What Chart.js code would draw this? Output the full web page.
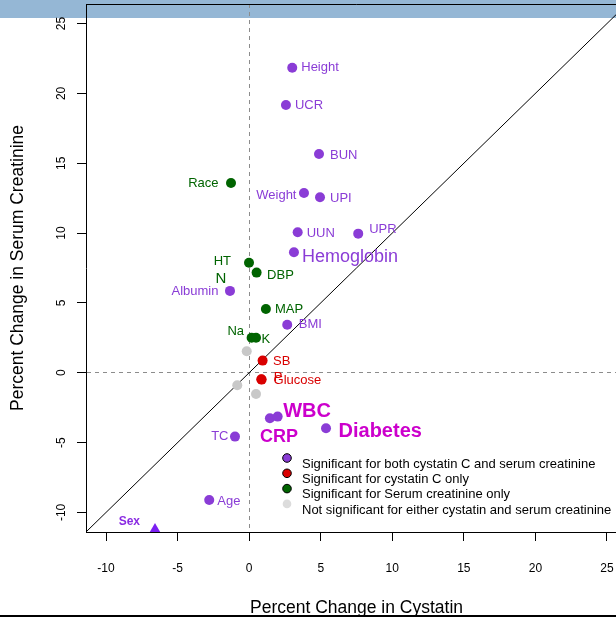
<!DOCTYPE html>
<html>
<head>
<meta charset="utf-8">
<script src="https://cdn.jsdelivr.net/npm/chart.js@4.4.1/dist/chart.umd.min.js"></script>
<style>
  html, body { margin: 0; padding: 0; background: #fff; overflow: hidden; width: 616px; height: 621px; }
  #band { position: absolute; left: 0; top: 0; width: 616px; height: 18px; background: #95b7d5; }
  #wrap { position: absolute; left: 0; top: 0; width: 660px; height: 621px; }
</style>
</head>
<body>
<div id="band"></div>
<div id="wrap"><canvas id="chart" width="660" height="621"></canvas></div>
<script>
// Percent change in cystatin C (x) and serum creatinine (y) per covariate
const names = ['Height','UCR','BUN','Race','Weight','UPI','UUN','UPR','Hemoglobin','HT','N','DBP','Albumin','MAP','BMI','Na','K','SB','P','Glucose','CRP','WBC','Diabetes','TC','Age','Sex','','',''];
const cystatinChange = [3.01,2.57,4.88,-1.27,3.83,4.95,3.39,7.62,3.13,-0.01,-0.01,0.52,-1.34,1.17,2.66,0.17,0.48,0.94,0.85,0.87,1.45,1.99,5.37,-0.99,-2.79,-6.58,-0.17,-0.83,0.48];
const creatinineChange = [21.84,19.17,15.66,13.58,12.87,12.56,10.06,9.96,8.63,7.88,7.88,7.17,5.86,4.57,3.44,2.51,2.51,0.87,-0.47,-0.49,-3.26,-3.14,-3.97,-4.57,-9.11,-11.4,1.54,-0.89,-1.52];
const significance = ['both','both','both','creatinine','both','both','both','both','both','creatinine','creatinine','creatinine','both','creatinine','both','creatinine','creatinine','cystatin','cystatin','cystatin','both','both','both','both','both','both','neither','neither','neither'];

const xTickValues = [-10, -5, 0, 5, 10, 15, 20, 25];
const yTickValues = [-10, -5, 0, 5, 10, 15, 20, 25];
const axisRange = [-11.4, 26.4];
const identityLine = [-12, 27];

const groups = ['both', 'cystatin', 'creatinine', 'neither'];
const legendTexts = [
  'Significant for both cystatin C and serum creatinine',
  'Significant for cystatin C only',
  'Significant for Serum creatinine only',
  'Not significant for either cystatin and serum creatinine'
];

// styling
const FONT = "'Liberation Sans', Arial, Helvetica, sans-serif";
const groupColor = { both: '#8a3cd6', cystatin: '#d90000', creatinine: '#006400', neither: '#c8c8c8' };
const legendFill = { both: '#8a3cd6', cystatin: '#d90000', creatinine: '#006400', neither: '#dcdcdc' };
const legendStroke = { both: '#000', cystatin: '#000', creatinine: '#000', neither: null };
const MAGENTA = '#cc00cc';
const labelPlacement = {
  Height:{dx:9,dy:0}, UCR:{dx:9,dy:0}, BUN:{dx:11,dy:1},
  Race:{dx:-12.5,dy:0,align:'right'}, Weight:{dx:-7.5,dy:2,align:'right'},
  UPI:{dx:10,dy:1}, UUN:{dx:9,dy:1}, UPR:{dx:11,dy:-4},
  Hemoglobin:{dx:8,dy:4.5,size:18},
  HT:{dx:-18,dy:-1,align:'right'}, N:{dx:-28,dy:16,align:'center',size:15},
  DBP:{dx:10.5,dy:3}, Albumin:{dx:-11.5,dy:1,align:'right'},
  MAP:{dx:9,dy:0}, BMI:{dx:11.5,dy:0},
  Na:{dx:-7.5,dy:-6.5,align:'right'}, K:{dx:5.5,dy:1.5},
  SB:{dx:10.5,dy:1}, P:{dx:12.5,dy:-2}, Glucose:{dx:12,dy:0.5},
  CRP:{dx:-10,dy:18.5,size:18,bold:true,color:MAGENTA},
  WBC:{dx:5.5,dy:-5,size:20,bold:true,color:MAGENTA},
  Diabetes:{dx:12.5,dy:3.5,size:20,bold:true,color:MAGENTA},
  TC:{dx:-6.5,dy:0,align:'right'}, Age:{dx:8,dy:1},
  Sex:{dx:-15,dy:-10.5,align:'right',size:12,bold:true}
};

const datasets = groups.map(g => {
  const idx = names.map((n, i) => i).filter(i => significance[i] === g);
  return {
    type: 'scatter',
    label: g,
    names: idx.map(i => names[i]),
    data: idx.map(i => ({ x: cystatinChange[i], y: creatinineChange[i] })),
    backgroundColor: idx.map(i => names[i] === 'Sex' ? '#7b1ff2' : (names[i] === 'N' ? 'rgba(0,0,0,0)' : groupColor[g])),
    borderWidth: 0,
    pointStyle: idx.map(i => names[i] === 'Sex' ? 'triangle' : 'circle'),
    pointRadius: idx.map(i => names[i] === 'Sex' ? 9 : 5),
    pointHoverRadius: idx.map(i => names[i] === 'Sex' ? 9 : 5)
  };
});

datasets.push({
  type: 'line',
  label: 'identity',
  names: [],
  data: identityLine.map(v => ({ x: v, y: v })),
  borderColor: '#000',
  borderWidth: 1,
  pointRadius: 0,
  fill: false
});

const pointLabels = {
  id: 'pointLabels',
  afterDatasetsDraw(chart) {
    const ctx = chart.ctx;
    ctx.save();
    chart.data.datasets.forEach((ds, di) => {
      if (!ds.names || !ds.names.length) return;
      const meta = chart.getDatasetMeta(di);
      meta.data.forEach((el, i) => {
        const name = ds.names[i];
        const p = labelPlacement[name];
        if (!name || !p) return;
        const size = p.size || 13;
        ctx.font = (p.bold ? 'bold ' : '') + size + 'px ' + FONT;
        ctx.fillStyle = p.color || (name === 'Sex' ? '#8a2be2' : groupColor[ds.label]);
        ctx.textAlign = p.align || 'left';
        ctx.textBaseline = 'middle';
        ctx.fillText(name, el.x + p.dx, el.y + p.dy);
      });
    });
    ctx.restore();
  }
};

const frameAndLegend = {
  id: 'frameAndLegend',
  afterDraw(chart) {
    const ctx = chart.ctx;
    const a = chart.chartArea;
    ctx.save();
    // box around the plotting region
    ctx.strokeStyle = '#000';
    ctx.lineWidth = 1;
    ctx.beginPath();
    ctx.moveTo(a.left, a.top + 0.5);
    ctx.lineTo(a.right + 0.5, a.top + 0.5);
    ctx.lineTo(a.right + 0.5, a.bottom);
    ctx.stroke();
    // legend
    const lx = 287, ly = 458, step = 15.3;
    groups.forEach((g, i) => {
      const y = ly + i * step;
      ctx.beginPath();
      ctx.arc(lx, y, 4.3, 0, Math.PI * 2);
      ctx.fillStyle = legendFill[g];
      ctx.fill();
      if (legendStroke[g]) { ctx.strokeStyle = legendStroke[g]; ctx.lineWidth = 1; ctx.stroke(); }
      ctx.font = '13px ' + FONT;
      ctx.fillStyle = '#000';
      ctx.textAlign = 'left';
      ctx.textBaseline = 'middle';
      ctx.fillText(legendTexts[i], 302, y + 6.3);
    });
    // rule along the bottom of the figure
    ctx.fillStyle = '#000';
    ctx.fillRect(0, 615, chart.width, 2);
    ctx.restore();
  }
};

const zeroGrid = c => (c.tick && c.tick.value === 0) ? '#8c8c8c' : 'rgba(0,0,0,0)';
const noScalePadding = s => { s.paddingTop = 0; s.paddingBottom = 0; s.paddingLeft = 0; s.paddingRight = 0; };

new Chart(document.getElementById('chart'), {
  type: 'scatter',
  data: { datasets },
  options: {
    responsive: false,
    animation: false,
    layout: { autoPadding: false, padding: { top: 4, right: 33, left: 0, bottom: 0 } },
    plugins: { legend: { display: false }, tooltip: { enabled: false } },
    scales: {
      x: {
        type: 'linear',
        min: axisRange[0], max: axisRange[1],
        afterBuildTicks: s => { s.ticks = xTickValues.map(v => ({ value: v })); },
        afterFit: s => { s.height = 89; noScalePadding(s); },
        ticks: { color: '#000', font: { family: FONT, size: 12 }, padding: 20, maxRotation: 0, autoSkip: false },
        grid: { color: zeroGrid, tickColor: '#000', tickLength: 9, lineWidth: 1 },
        border: { color: '#000', width: 1, dash: [4, 4] },
        title: { display: true, text: 'Percent Change in Cystatin', color: '#000', font: { family: FONT, size: 17.5 }, padding: { top: 0, bottom: 2.5 } }
      },
      y: {
        type: 'linear',
        min: axisRange[0], max: axisRange[1],
        afterBuildTicks: s => { s.ticks = yTickValues.map(v => ({ value: v })); },
        afterFit: s => { s.width = 86; noScalePadding(s); },
        ticks: { color: '#000', font: { family: FONT, size: 12 }, padding: 7, minRotation: 90, maxRotation: 90, crossAlign: 'center', autoSkip: false },
        grid: { color: zeroGrid, tickColor: '#000', tickLength: 9, lineWidth: 1 },
        border: { color: '#000', width: 1, dash: [4, 4] },
        title: { display: true, text: 'Percent Change in Serum Creatinine', color: '#000', font: { family: FONT, size: 17.5 }, padding: { top: 7.5, bottom: 0 } }
      }
    }
  },
  plugins: [pointLabels, frameAndLegend]
});
</script>
</body>
</html>
